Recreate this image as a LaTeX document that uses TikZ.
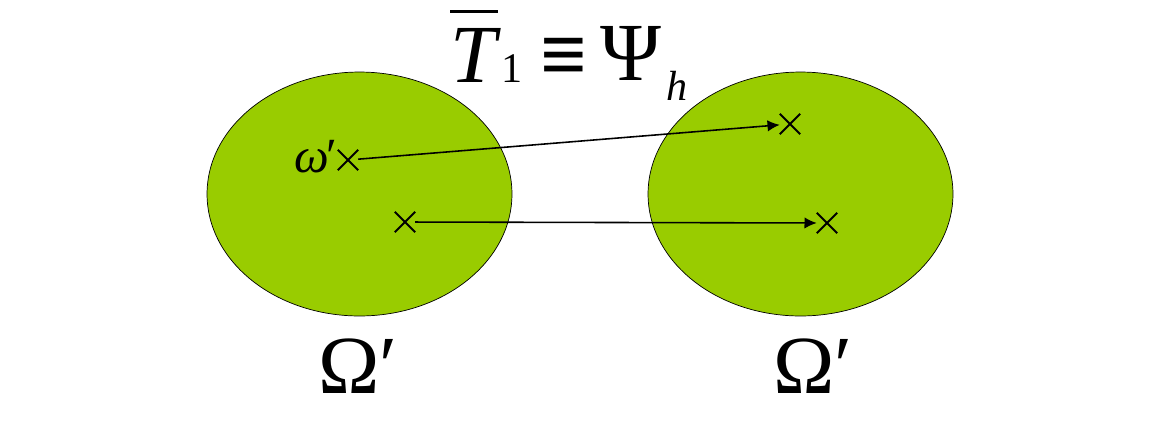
\documentclass[tikz,border=0pt]{standalone}
\usepackage{fontspec}
\setmainfont{Liberation Serif}
\usetikzlibrary{shapes.geometric,shapes.misc,arrows.meta}
\definecolor{leafgreen}{RGB}{153,204,0}
\tikzset{
  region/.style={ellipse,draw,thin,fill=leafgreen,minimum width=6.1cm,minimum height=4.88cm},
  pt/.style={cross out,draw,line width=1.1pt,minimum size=0.37cm,inner sep=0pt},
  map/.style={-{Latex[length=7pt,width=6.5pt]},line width=0.9pt},
  lbl/.style={anchor=base west,inner sep=0pt},
  big/.style={lbl,font=\fontsize{47}{54}\selectfont},
  small/.style={lbl,font=\fontsize{24}{28}\selectfont},
}
\begin{document}
\begin{tikzpicture}[x=0.02cm,y=-0.02cm]
  \useasboundingbox (0,0) rectangle (1151,427);
  % the two domains
  \node[region] (domL) at (359.5,194) {};
  \node[region] (domR) at (800.5,194) {};
  % points
  \node[pt] (w1) at (348,160) {};
  \node[pt] (w2) at (405,222) {};
  \node[pt] (v1) at (790,124) {};
  \node[pt] (v2) at (827,223) {};
  \draw[map] (w1) -- (v1);
  \draw[map] (w2) -- (v2);
  % labels
  \node[lbl,font=\fontsize{28}{32}\selectfont] (lw) at (294,172) {\textit{ω}\kern-0.06em′};
  \node[big] (tbar) at (450,82) {\rlap{\rule[0.83em]{0.58em}{1.7pt}}\textit{T}};
  \node[small] (one) at (501,82) {1};
  \node[big] (equiv) at (540,82) {\textbf{≡}};
  \node[big] (psi) at (600,80) {Ψ};
  \node[small] (hsub) at (666,100) {\textit{h}};
  \node[big] (lL) at (318,393) {Ω′};
  \node[big] (lR) at (773,393) {Ω′};
\end{tikzpicture}
\end{document}
